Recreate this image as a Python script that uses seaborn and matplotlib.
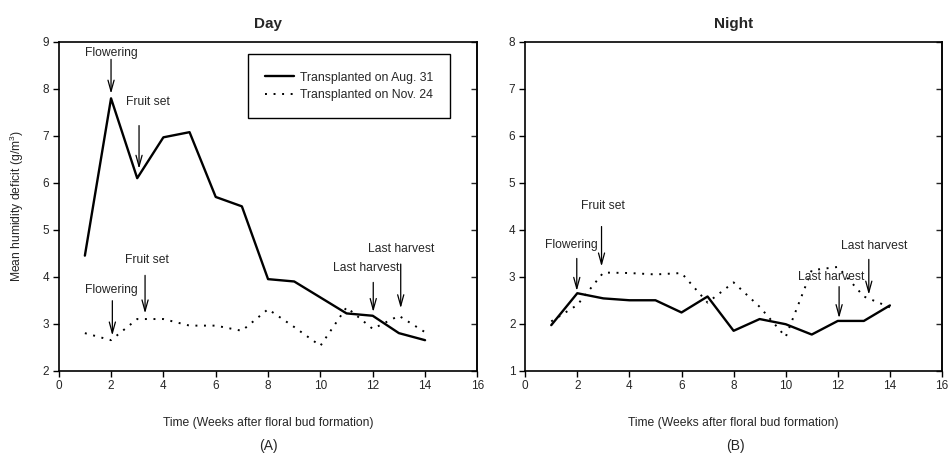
import numpy as np
import pandas as pd
import matplotlib
matplotlib.use("Agg")
import matplotlib.pyplot as plt
import seaborn as sns

# ---------------- data ----------------
weeks = [1, 2, 3, 4, 5, 6, 7, 8, 9, 10, 11, 12, 13, 14]

day_aug31 = [4.45, 7.80, 6.10, 6.97, 7.08, 5.70, 5.50, 3.95, 3.90, 3.56, 3.22, 3.17, 2.80, 2.65]
day_nov24 = [2.80, 2.65, 3.10, 3.10, 2.96, 2.96, 2.85, 3.31, 2.93, 2.53, 3.35, 2.89, 3.17, 2.82]

night_aug31 = [1.97, 2.65, 2.54, 2.50, 2.50, 2.24, 2.58, 1.85, 2.10, 1.99, 1.77, 2.06, 2.06, 2.39]
night_nov24 = [2.05, 2.40, 3.09, 3.08, 3.05, 3.08, 2.45, 2.88, 2.36, 1.72, 3.14, 3.21, 2.58, 2.35]

series_names = ["Transplanted on Aug. 31", "Transplanted on Nov. 24"]
panel_titles = ["Day", "Night"]
panel_tags = ["(A)", "(B)"]
x_label = "Time (Weeks after floral bud formation)"
y_label = "Mean humidity deficit (g/m$^3$)"
x_ticks = [0, 2, 4, 6, 8, 10, 12, 14, 16]
day_y_ticks = [2, 3, 4, 5, 6, 7, 8, 9]
night_y_ticks = [1, 2, 3, 4, 5, 6, 7, 8]

# annotations: (label, text_x, text_y, arrow_x, arrow_y_start, arrow_y_end)
day_notes = [
    ("Flowering", 2.02, 8.77, 2.0, 8.63, 7.90),
    ("Fruit set", 3.41, 7.72, 3.07, 7.22, 6.30),
    ("Flowering", 2.02, 3.71, 2.05, 3.49, 2.75),
    ("Fruit set", 3.36, 4.35, 3.30, 4.03, 3.22),
    ("Last harvest", 11.74, 4.18, 12.02, 3.88, 3.25),
    ("Last harvest", 13.10, 4.59, 13.07, 4.27, 3.33),
]
night_notes = [
    ("Fruit set", 2.97, 4.51, 2.93, 4.07, 3.22),
    ("Flowering", 1.78, 3.68, 1.98, 3.39, 2.70),
    ("Last harvest", 11.76, 3.00, 12.05, 2.79, 2.12),
    ("Last harvest", 13.38, 3.66, 13.19, 3.37, 2.62),
]

# ---------------- style ----------------
sns.set_style("ticks")
plt.rcParams["font.family"] = ["Liberation Sans", "DejaVu Sans"]
plt.rcParams["mathtext.fontset"] = "custom"
plt.rcParams["mathtext.rm"] = "Liberation Sans"

fig = plt.figure(figsize=(9.49, 4.63), dpi=100)
W, H = 949, 463
axA = fig.add_axes([58.7 / W, 1 - 370.7 / H, 418.7 / W, 328.7 / H])
axB = fig.add_axes([525.2 / W, 1 - 370.7 / H, 416.8 / W, 328.7 / H])

panels = [
    (axA, day_aug31, day_nov24, (2, 9), day_y_ticks, day_notes),
    (axB, night_aug31, night_nov24, (1, 8), night_y_ticks, night_notes),
]

for i, (ax, s1, s2, ylim, yticks, notes) in enumerate(panels):
    df = pd.DataFrame({
        "week": weeks * 2,
        "value": s1 + s2,
        "series": [series_names[0]] * len(weeks) + [series_names[1]] * len(weeks),
    })
    sns.lineplot(data=df[df.series == series_names[0]], x="week", y="value",
                 ax=ax, color="black", lw=1.7, label=series_names[0])
    sns.lineplot(data=df[df.series == series_names[1]], x="week", y="value",
                 ax=ax, color="black", lw=1.4, linestyle=(0, (1, 3.4)),
                 label=series_names[1])
    ax.set_xlim(0, 16)
    ax.set_ylim(*ylim)
    ax.set_xticks(x_ticks)
    ax.set_yticks(yticks)
    ax.tick_params(axis="both", labelsize=8.5, length=4, width=1, direction="out",
                   color="black", pad=3)
    for sp in ax.spines.values():
        sp.set_visible(True)
        sp.set_color("black")
        sp.set_linewidth(1.2)
    sec = ax.secondary_yaxis("right")
    sec.set_yticks(yticks)
    sec.tick_params(direction="in", length=4, width=1, labelright=False)
    sec.spines["right"].set_linewidth(1.2)

    ax.set_title(panel_titles[i], fontsize=11, fontweight="bold", pad=10)
    ax.set_xlabel(x_label, fontsize=8.7, labelpad=18)
    if i == 0:
        ax.set_ylabel(y_label, fontsize=8.7, labelpad=12)
    else:
        ax.set_ylabel("")

    for (lab, tx, ty, axx, y0, y1) in notes:
        ax.text(tx, ty, lab, ha="center", va="center", fontsize=8.7)
        ax.annotate("", xy=(axx, y1), xytext=(axx, y0),
                    arrowprops=dict(arrowstyle="->,head_length=0.8,head_width=0.22",
                                    lw=0.9, color="black", shrinkA=0, shrinkB=0))

    if i == 0:
        leg = ax.legend(loc="upper left", bbox_to_anchor=(0.451, 0.962),
                        fontsize=8.8, frameon=True, fancybox=False,
                        borderpad=1.4, handlelength=2.4, handletextpad=0.5,
                        labelspacing=0.45, borderaxespad=0)
        leg.get_frame().set_edgecolor("black")
        leg.get_frame().set_linewidth(1.0)
        leg.get_frame().set_alpha(1)
    else:
        lg = ax.get_legend()
        if lg is not None:
            lg.remove()

fig.text(268 / W, 1 - 446 / H, panel_tags[0], ha="center", va="center", fontsize=10)
fig.text(735 / W, 1 - 446 / H, panel_tags[1], ha="center", va="center", fontsize=10)

fig.savefig("out.png", dpi=100)
